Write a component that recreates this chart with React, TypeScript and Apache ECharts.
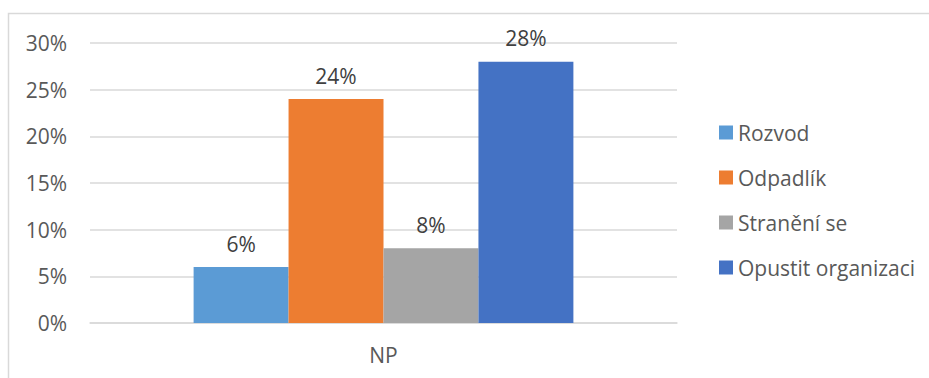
import React, { useEffect, useRef } from "react";
import * as echarts from "echarts";

const categories = ["NP"];
const seriesNames = ["Rozvod", "Odpadlík", "Stranění se", "Opustit organizaci"];
const seriesValues = [6, 24, 8, 28];
const seriesColors = ["#5B9BD5", "#ED7D31", "#A5A5A5", "#4472C4"];
const yMin = 0;
const yMax = 30;
const yInterval = 5;

const FONT = "'Open Sans', 'Noto Sans', sans-serif";
const FS = 21;

export default function App() {
  const ref = useRef<HTMLDivElement>(null);
  useEffect(() => {
    if (!ref.current) return;
    const chart = echarts.init(ref.current, undefined, { renderer: "svg" });
    chart.setOption({
      animation: false,
      backgroundColor: "#ffffff",
      textStyle: { fontFamily: FONT },
      graphic: [
        {
          type: "rect",
          shape: { x: 8.5, y: 13.5, width: 940, height: 400 },
          style: { fill: "none", stroke: "#d9d9d9", lineWidth: 1.5 },
          silent: true,
        },
      ],
      grid: { left: 90, right: 252, top: 43, bottom: 55, containLabel: false },
      legend: {
        orient: "vertical",
        left: 719,
        top: 122,
        padding: 0,
        itemWidth: 14,
        itemHeight: 14,
        itemGap: 24,
        icon: "rect",
        textStyle: { fontSize: FS, color: "#595959", fontFamily: FONT, lineHeight: 21, padding: [0, 0, 0, 0] },
        data: seriesNames,
      },
      xAxis: {
        type: "category",
        data: categories,
        axisLine: { show: true, lineStyle: { color: "#d9d9d9", width: 1.5 } },
        axisTick: { show: false },
        axisLabel: { fontSize: FS, color: "#595959", margin: 21, fontFamily: FONT },
      },
      yAxis: {
        type: "value",
        min: yMin,
        max: yMax,
        interval: yInterval,
        axisLine: { show: false },
        axisTick: { show: false },
        splitLine: { lineStyle: { color: "#d9d9d9", width: 1.5 } },
        axisLabel: { fontSize: FS, color: "#595959", margin: 23, formatter: "{value}%", fontFamily: FONT },
      },
      series: seriesNames.map((name, i) => ({
        name,
        type: "bar",
        data: [seriesValues[i]],
        barGap: "0%",
        barCategoryGap: "35.3%",
        itemStyle: { color: seriesColors[i] },
        label: {
          show: true,
          position: "top",
          distance: 13,
          formatter: "{c}%",
          fontSize: FS,
          color: "#404040",
          fontFamily: FONT,
        },
      })),
    });
    return () => chart.dispose();
  }, []);
  return (
    <div
      ref={ref}
      style={{ position: "absolute", left: 0, top: 0, width: 929, height: 378 }}
    />
  );
}
